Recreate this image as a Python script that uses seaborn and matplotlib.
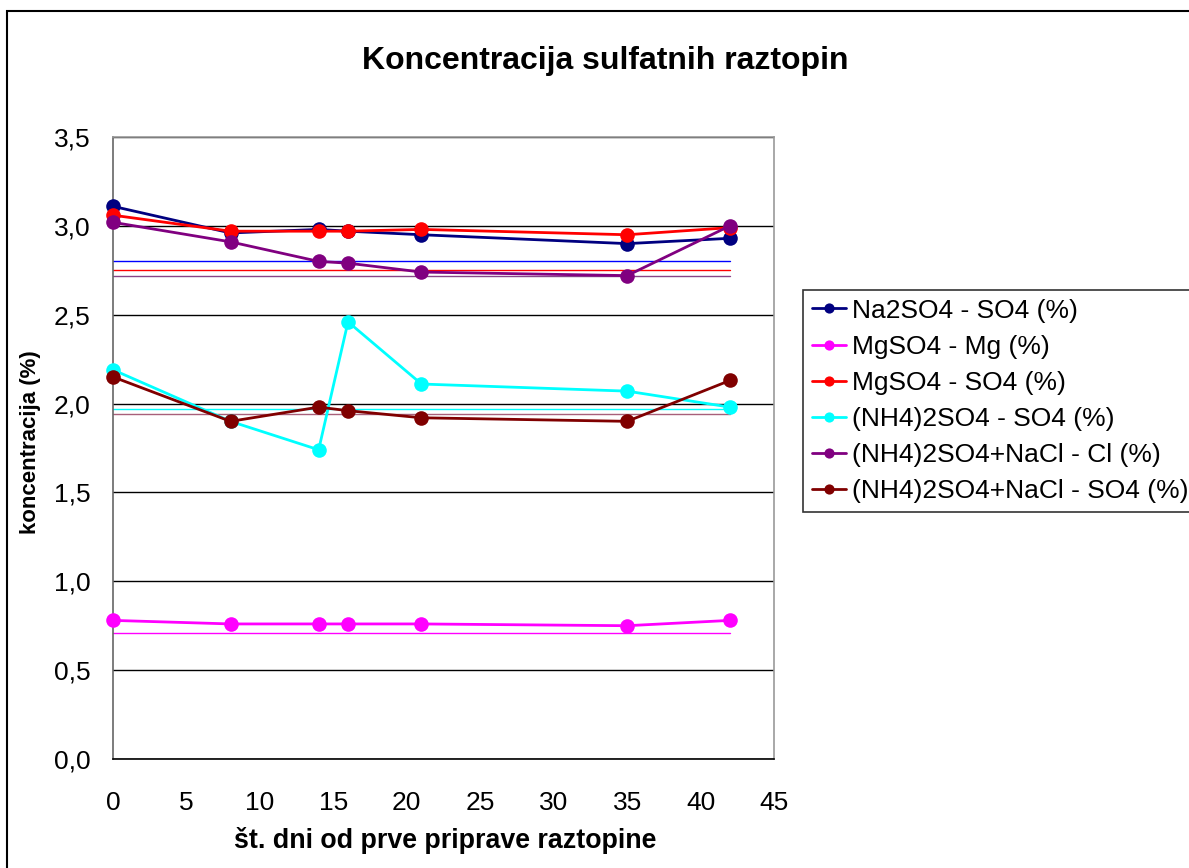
import matplotlib
matplotlib.use("Agg")
import matplotlib.pyplot as plt
import seaborn as sns
import pandas as pd
from matplotlib.patches import Rectangle
from matplotlib.ticker import FuncFormatter, MultipleLocator

# ---- data ----
days = [0, 8, 14, 16, 21, 35, 42]
series_names = [
    "Na2SO4 - SO4 (%)",
    "MgSO4 - Mg (%)",
    "MgSO4 - SO4 (%)",
    "(NH4)2SO4 - SO4 (%)",
    "(NH4)2SO4+NaCl - Cl (%)",
    "(NH4)2SO4+NaCl - SO4 (%)",
]
na2so4_so4 = [3.11, 2.96, 2.98, 2.97, 2.95, 2.90, 2.93]
mgso4_mg = [0.78, 0.76, 0.76, 0.76, 0.76, 0.75, 0.78]
mgso4_so4 = [3.06, 2.97, 2.97, 2.97, 2.98, 2.95, 2.99]
nh4so4_so4 = [2.19, 1.90, 1.74, 2.46, 2.11, 2.07, 1.98]
nacl_cl = [3.02, 2.91, 2.80, 2.79, 2.74, 2.72, 3.00]
nacl_so4 = [2.15, 1.90, 1.98, 1.96, 1.92, 1.90, 2.13]
series_values = [na2so4_so4, mgso4_mg, mgso4_so4, nh4so4_so4, nacl_cl, nacl_so4]
colors = ["#000080", "#FF00FF", "#FF0000", "#00FFFF", "#800080", "#800000"]

# reference (target) levels drawn as thin lines
ref_values = [2.80, 0.71, 2.75, 1.97, 2.72, 1.94]
ref_colors = ["#0000FF", "#FF00FF", "#FF0000", "#00FFFF", "#884488", "#A8607A"]
ref_x = [0, 42]

rows = []
for name, vals in zip(series_names, series_values):
    for d, v in zip(days, vals):
        rows.append({"dan": d, "vrednost": v, "serija": name})
df = pd.DataFrame(rows)

sns.set_theme(style="white")
plt.rcParams["font.family"] = ["Liberation Sans", "DejaVu Sans"]
plt.rcParams["text.color"] = "black"
plt.rcParams["axes.labelcolor"] = "black"
plt.rcParams["xtick.color"] = "black"
plt.rcParams["ytick.color"] = "black"

fig = plt.figure(figsize=(11.89, 8.68), dpi=100)
W, H = 1189, 868
ax = fig.add_axes([113 / W, 1 - 759 / H, (774 - 113) / W, (759 - 137) / H])

# outer chart border
fig.patches.append(Rectangle((6.5 / W, -0.1), 1.2, 1 - 11.5 / H + 0.1,
                             transform=fig.transFigure, fill=False,
                             edgecolor="black", linewidth=1.5))

# gridlines
ax.set_axisbelow(True)
ax.yaxis.grid(True, color="black", linewidth=1.0)
ax.xaxis.grid(False)

# reference lines
for v, c in zip(ref_values, ref_colors):
    ax.plot(ref_x, [v, v], color=c, linewidth=1.0, zorder=2)

for i, (name, c) in enumerate(zip(series_names, colors)):
    sub = df[df["serija"] == name]
    sns.lineplot(data=sub, x="dan", y="vrednost", ax=ax, color=c, marker="o",
                 markersize=10.5, markeredgewidth=0, linewidth=2.0, label=name,
                 clip_on=False, zorder=3 + i)

ax.set_xlim(0, 45)
ax.set_ylim(0, 3.5)
ax.xaxis.set_major_locator(MultipleLocator(5))
ax.yaxis.set_major_locator(MultipleLocator(0.5))
ax.yaxis.set_major_formatter(FuncFormatter(lambda v, p: f"{v:.1f}".replace(".", ",")))
ax.tick_params(axis="both", which="major", labelsize=19, direction="out",
               length=6, width=1, colors="#555555", labelcolor="black", pad=10)
ax.tick_params(axis="x", colors="black", labelcolor="black", pad=17)
ax.set_xlabel("")
ax.set_ylabel("")

for s in ["top", "right"]:
    ax.spines[s].set_color("#999999")
    ax.spines[s].set_linewidth(1.2)
ax.spines["left"].set_color("#666666")
ax.spines["left"].set_linewidth(1.2)
ax.spines["bottom"].set_color("black")
ax.spines["bottom"].set_linewidth(1.2)

# texts
fig.text(605 / W, 1 - 61 / H, "Koncentracija sulfatnih raztopin", ha="center",
         va="center", fontsize=23, fontweight="bold", color="black")
fig.text(445 / W, 1 - 841 / H, "št. dni od prve priprave raztopine", ha="center",
         va="center", fontsize=19.3, fontweight="bold", color="black")
fig.text(31 / W, 1 - 442 / H, "koncentracija (%)", ha="center", va="center",
         rotation=90, fontsize=16, fontweight="bold", color="black")

# legend
handles, labels = ax.get_legend_handles_labels()
if ax.legend_:
    ax.legend_.remove()
leg = fig.legend(handles, labels, loc="upper left",
                 bbox_to_anchor=(803 / W, 1 - 290 / H),
                 bbox_transform=fig.transFigure, fontsize=19,
                 frameon=True, fancybox=False, shadow=False,
                 handlelength=1.3, handletextpad=0.22, labelspacing=0.46,
                 borderpad=0.33, borderaxespad=0, markerscale=0.7,
                 labelcolor="black")
leg.get_frame().set_edgecolor("black")
leg.get_frame().set_linewidth(1.2)

fig.savefig("out.png", dpi=100)
